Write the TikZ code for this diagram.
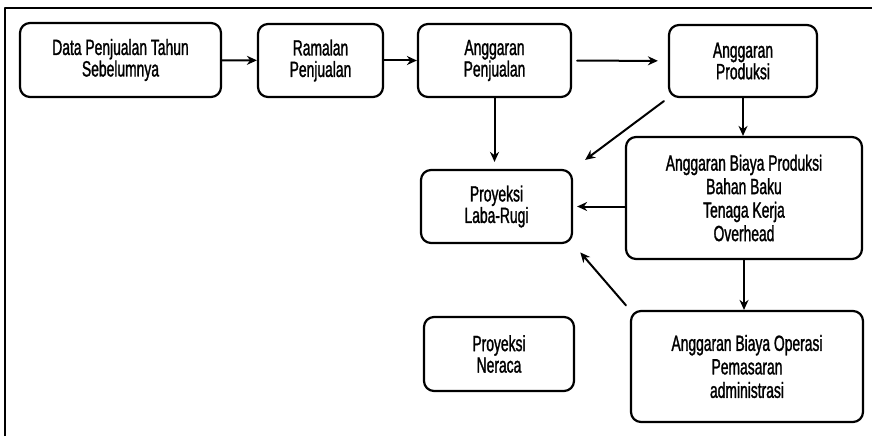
\documentclass[tikz,border=0pt]{standalone}
\usepackage{fontspec}
\setmainfont{Liberation Sans}[FakeStretch=0.63,FakeBold=1.3]
\usetikzlibrary{arrows.meta}
\tikzset{
  kotak/.style={draw,line width=2.2pt,rounded corners=10pt,align=center,inner sep=0pt,
    font=\fontsize{22}{21.5}\selectfont},
  kotakbesar/.style={kotak,font=\fontsize{22}{23.5}\selectfont},
  panah/.style={->,line width=2pt}
}
\begin{document}
\begin{tikzpicture}[x=1pt,y=-1pt,line cap=round,line join=round,>={Stealth[length=10pt,width=9pt]}]
	\useasboundingbox (0,0) rectangle (872,436);
	\draw[line width=2.2pt,line cap=butt] (5,436) -- (5,8) -- (872,8);
	% baris atas
	\node[kotak,minimum width=201pt,minimum height=74pt] (dataLalu) at (120.5,60) {Data Penjualan Tahun\\Sebelumnya};
	\node[kotak,minimum width=125pt,minimum height=73pt] (ramalan) at (320.5,60.5) {Ramalan\\Penjualan};
	\node[kotak,minimum width=153pt,minimum height=73pt] (angJual) at (494.5,60.5) {Anggaran\\Penjualan};
	\node[kotak,minimum width=148pt,minimum height=72pt] (angProd) at (743,61) {Anggaran\\Produksi};
	% kolom kanan
	\node[kotakbesar,minimum width=236pt,minimum height=122pt] (biayaProd) at (744,198) {Anggaran Biaya Produksi\\Bahan Baku\\Tenaga Kerja\\Overhead};
	\node[kotakbesar,minimum width=232pt,minimum height=111pt] (biayaOps) at (747,366.5) {Anggaran Biaya Operasi\\Pemasaran\\administrasi};
	% proyeksi
	\node[kotak,minimum width=151pt,minimum height=73pt] (labaRugi) at (496.5,206.5) {Proyeksi\\Laba-Rugi};
	\node[kotak,minimum width=150pt,minimum height=74pt] (neraca) at (499,354) {Proyeksi\\Neraca};
	% panah
	\draw[panah] (dataLalu) -- (ramalan);
	\draw[panah] (ramalan) -- (angJual);
	\draw[panah,shorten <=5pt,shorten >=10pt] (angJual) -- (angProd);
	\draw[panah,shorten >=7pt] (angJual.south) -- (angJual.south|-labaRugi.north);
	\draw[panah,shorten <=5pt,shorten >=15pt] (angProd.south west) -- (labaRugi.north east);
	\draw[panah] (angProd.south) -- (angProd.south|-biayaProd.north);
	\draw[panah,shorten >=4pt] (biayaProd.west|-labaRugi.east) -- (labaRugi.east);
	\draw[panah] (biayaProd.south) -- (biayaProd.south|-biayaOps.north);
	\draw[panah,shorten <=6pt,shorten >=11pt] (biayaOps.north west) -- (labaRugi.south east);
\end{tikzpicture}
\end{document}
